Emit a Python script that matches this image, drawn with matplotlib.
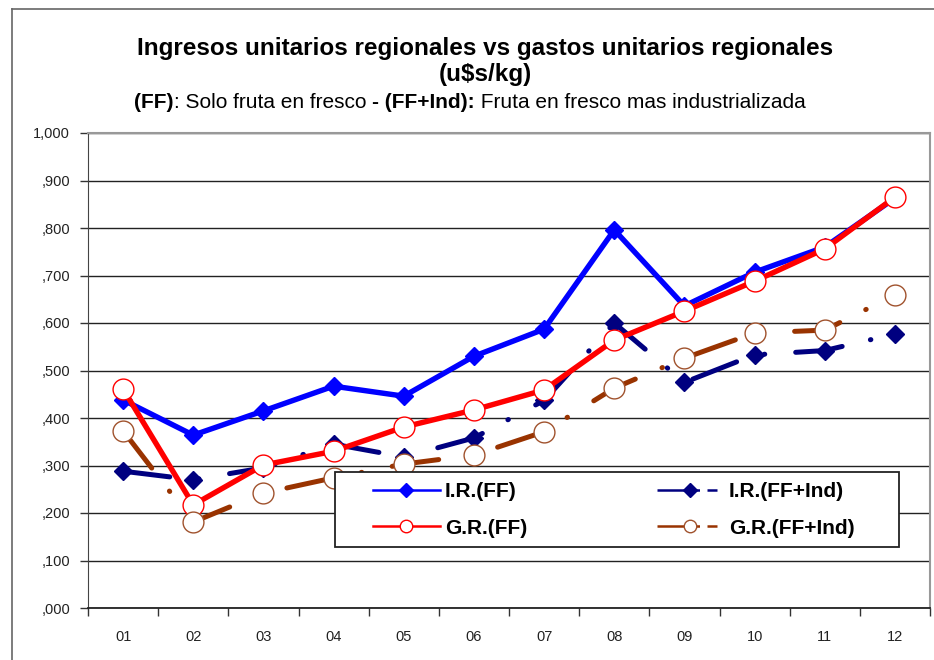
import numpy as np
import matplotlib
matplotlib.use("Agg")
import matplotlib.pyplot as plt
from matplotlib.lines import Line2D
from matplotlib.patches import Rectangle

plt.rcParams['font.family'] = ['Liberation Sans', 'DejaVu Sans']

# Data (u$s/kg)
meses = ['01', '02', '03', '04', '05', '06', '07', '08', '09', '10', '11', '12']
ir_ff = [0.438, 0.364, 0.415, 0.467, 0.446, 0.530, 0.587, 0.796, 0.636, 0.707, 0.760, 0.863]
ir_ff_ind = [0.288, 0.270, 0.295, 0.345, 0.318, 0.358, 0.437, 0.600, 0.475, 0.533, 0.542, 0.577]
gr_ff = [0.461, 0.217, 0.301, 0.330, 0.381, 0.417, 0.459, 0.564, 0.625, 0.688, 0.756, 0.865]
gr_ff_ind = [0.373, 0.181, 0.242, 0.274, 0.303, 0.322, 0.371, 0.463, 0.526, 0.579, 0.585, 0.659]
y_ticks = [0.0, 0.1, 0.2, 0.3, 0.4, 0.5, 0.6, 0.7, 0.8, 0.9, 1.0]
y_labels = [',000', ',100', ',200', ',300', ',400', ',500', ',600', ',700', ',800', ',900', '1,000']

W, H = 934, 660
fig = plt.figure(figsize=(W / 100, H / 100), dpi=100)
ax = fig.add_axes([88 / W, 52 / H, 842 / W, 475 / H])

x = np.arange(len(meses))
dash = (0, (9.4, 5.8, 0.1, 6.2))
lw = 3.6

# series in Excel drawing order
ax.plot(x, ir_ff, color='#0000FF', lw=3.9, marker='D', ms=9.5, mfc='#0000FF', mec='#0000FF', zorder=3)
ax.plot(x, ir_ff_ind, color='#000080', lw=lw, ls=dash, dash_capstyle='round', marker='D',
        ms=9.5, mfc='#000080', mec='#000080', zorder=3)
ax.plot(x, gr_ff, color='#FF0000', lw=3.9, marker='o', ms=15, mfc='white', mec='#FF0000',
        mew=1, zorder=3)
ax.plot(x, gr_ff_ind, color='#993300', lw=lw, ls=dash, dash_capstyle='round', marker='o',
        ms=15, mfc='white', mec='#A0522D', mew=1, zorder=3)

# axes
ax.set_xlim(-0.5, len(meses) - 0.5)
ax.set_ylim(0, 1.0)
ax.set_xticks(np.arange(-0.5, len(meses)), labels=[''] * (len(meses) + 1))
ax.set_xticks(x, labels=meses, minor=True)
ax.tick_params(axis='x', which='major', length=6, width=1, color='#333333', direction='out')
ax.tick_params(axis='x', which='minor', length=0, pad=16, labelsize=10.5, labelcolor='#222222')
ax.set_yticks(y_ticks, labels=y_labels)
ax.tick_params(axis='y', length=6, width=1, color='#333333', pad=7, labelsize=10.5,
               labelcolor='#222222')
ax.yaxis.grid(True, color='#222222', lw=1.0)
ax.set_axisbelow(True)
for s in ['top', 'right']:
    ax.spines[s].set_color('#999999')
    ax.spines[s].set_linewidth(1.5)
ax.spines['left'].set_color('#444444')
ax.spines['bottom'].set_color('#222222')
ax.spines['bottom'].set_linewidth(1.3)

# legend: white box plus two columns (Excel fills row by row)
fig.add_artist(Rectangle((335 / W, 1 - 547 / H), (899 - 335) / W, 75 / H, facecolor='white',
                         edgecolor='#222222', lw=1.3, zorder=4))
ldash = (0, (17, 3, 4, 12))
h_ir = Line2D([], [], color='#0000FF', lw=1.8, marker='D', ms=7)
h_gr = Line2D([], [], color='#FF0000', lw=1.8, marker='o', ms=9, mfc='white', mec='#FF0000', mew=1)
h_iri = Line2D([], [], color='#000080', lw=1.8, ls=ldash, marker='D', ms=7)
h_gri = Line2D([], [], color='#993300', lw=1.8, ls=ldash, marker='o', ms=9, mfc='white',
               mec='#A0522D', mew=1)
common = dict(loc='upper left', bbox_transform=fig.transFigure, frameon=False, borderpad=0,
              borderaxespad=0, prop={'weight': 'bold', 'size': 15}, handlelength=3.2,
              handletextpad=0.25, labelspacing=0.85)
leg1 = fig.legend([h_ir, h_gr], ['I.R.(FF)', 'G.R.(FF)'], bbox_to_anchor=(373 / W, 1 - 482 / H),
                  **common)
leg2 = fig.legend([h_iri, h_gri], ['I.R.(FF+Ind)', 'G.R.(FF+Ind)'],
                  bbox_to_anchor=(657 / W, 1 - 482 / H), **common)
leg1.set_zorder(5)
leg2.set_zorder(5)

# outer chart frame (left and top visible)
fig.add_artist(Line2D([12 / W, 12 / W], [0, 1 - 9 / H], color='#666666', lw=1.2))
fig.add_artist(Line2D([12 / W, 1], [1 - 9 / H, 1 - 9 / H], color='#666666', lw=1.2))

# titles
fig.text(485 / W, 1 - 49 / H, 'Ingresos unitarios regionales vs gastos unitarios regionales',
         ha='center', va='center', fontsize=17.5, fontweight='bold')
fig.text(485 / W, 1 - 75 / H, '(u$s/kg)', ha='center', va='center', fontsize=17.5,
         fontweight='bold')

pieces = [('(FF)', 'bold'), (': Solo fruta en fresco ', 'normal'), ('- (FF+Ind):', 'bold'),
          (' Fruta en fresco mas industrializada', 'normal')]
texts = [fig.text(0, 1 - 103 / H, t, ha='left', va='center', fontsize=15, fontweight=w)
         for t, w in pieces]
fig.canvas.draw()
r = fig.canvas.get_renderer()
widths = [t.get_window_extent(r).width for t in texts]
x0 = 470 - sum(widths) / 2
for t, w in zip(texts, widths):
    t.set_x(x0 / W)
    x0 += w

fig.savefig('out.png', dpi=100)
